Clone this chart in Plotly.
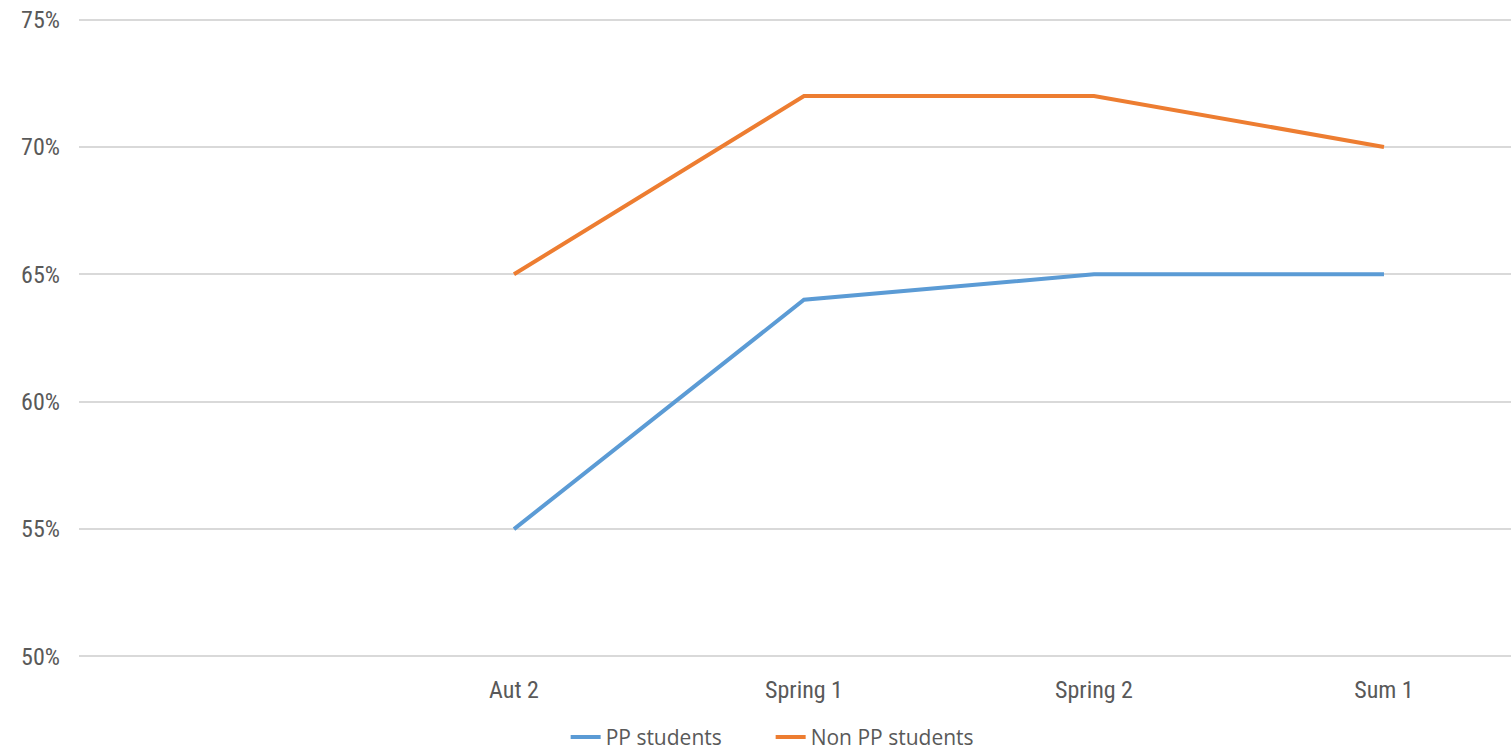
import plotly.graph_objects as go

categories = ["", "Aut 2", "Spring 1", "Spring 2", "Sum 1"]
pp_students = [None, 0.55, 0.64, 0.65, 0.65]
non_pp_students = [None, 0.65, 0.72, 0.72, 0.70]
y_ticks = [0.50, 0.55, 0.60, 0.65, 0.70, 0.75]

FONT = "Liberation Sans Narrow, Roboto Condensed, Arial Narrow, sans-serif"

fig = go.Figure()
fig.add_trace(go.Scatter(x=list(range(len(categories))), y=pp_students, mode="lines",
                         name="PP students", line=dict(color="#5B9BD5", width=4)))
fig.add_trace(go.Scatter(x=list(range(len(categories))), y=non_pp_students, mode="lines",
                         name="Non PP students", line=dict(color="#ED7D31", width=4)))

fig.update_layout(
    width=1511, height=751,
    margin=dict(l=79, r=0, t=17, b=92, autoexpand=False),
    plot_bgcolor="white", paper_bgcolor="white",
    font=dict(family=FONT, size=24, color="#595959"),
    showlegend=True,
    legend=dict(orientation="h", x=0.483, xanchor="center", y=-0.122, yanchor="middle",
                font=dict(family="Open Sans, Noto Sans, sans-serif", size=21, color="#595959"),
                entrywidth=160, entrywidthmode="pixels", tracegroupgap=0),
    xaxis=dict(range=[-0.5, 4.438], tickmode="array", tickvals=list(range(len(categories))),
               ticktext=categories, showgrid=False, zeroline=False, showline=False,
               ticks="", ticklabelstandoff=14),
    yaxis=dict(range=[0.499, 0.751], tickvals=y_ticks, tickformat=".0%",
               showgrid=True, gridcolor="#D9D9D9", gridwidth=1.5, zeroline=False,
               showline=False, ticks="", ticklabelstandoff=18),
)

fig.write_html("out.html", config={"displayModeBar": False},
               post_script="document.body.style.margin='0';document.body.style.overflow='hidden';")
